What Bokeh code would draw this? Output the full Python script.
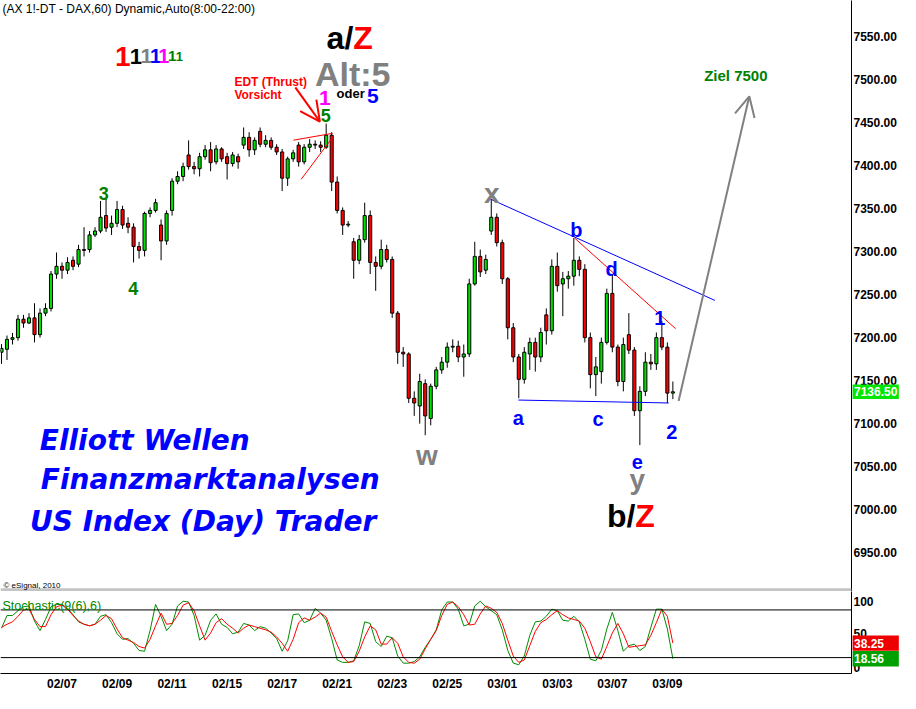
from bokeh.plotting import figure
from bokeh.layouts import column
from bokeh.models import Range1d, FixedTicker, NumeralTickFormatter, Label, Span, Arrow, OpenHead
from bokeh.core.properties import value
from bokeh.embed import file_html
from bokeh.resources import INLINE

# ---------------- data (DAX future, 60-min chart, aggregated candles) ----------------
opens = [7182.5, 7186, 7197.5, 7199.5, 7221, 7216.5, 7222.5, 7203, 7228, 7233.5,
         7273.5, 7282.5, 7278, 7289.5, 7285, 7302, 7302, 7319, 7323.5, 7341.5,
         7328, 7332.5, 7348.5, 7332.5, 7328, 7305.5, 7301, 7344, 7347.5, 7330.5,
         7312, 7347.5, 7381.5, 7387, 7412, 7398.5, 7396, 7410, 7418, 7404,
         7419, 7410, 7402, 7410, 7423.5, 7432.5, 7418, 7439.5, 7424.5, 7429,
         7421, 7415.5, 7385, 7407.5, 7423.5, 7404, 7421, 7424.5, 7423.5, 7421,
         7435, 7380.5, 7347.5, 7330.5, 7311, 7289.5, 7313.5, 7341.5, 7287, 7282.5,
         7302, 7290.5, 7228, 7182.5, 7180.5, 7129, 7120, 7146, 7105.5, 7143,
         7162, 7171, 7188.5, 7189.5, 7177, 7180.5, 7262, 7294, 7278, 7323.5,
         7339.5, 7310, 7268, 7211, 7177, 7151, 7180.5, 7194, 7177, 7226,
         7207.5, 7282.5, 7262, 7268, 7271, 7289.5, 7279, 7199.5, 7156.5, 7160,
         7194, 7251, 7188.5, 7148.5, 7203, 7185, 7114.5, 7137, 7171, 7169,
         7199.5, 7188.5, 7135]
highs = [7192, 7202, 7205, 7226, 7226, 7228, 7239.5, 7233.5, 7239.5, 7277,
         7298.5, 7287, 7293, 7294, 7307.5, 7328, 7323.5, 7328, 7358.5, 7361,
         7341.5, 7358.5, 7353, 7339.5, 7332.5, 7311, 7346, 7351, 7361, 7337,
         7347.5, 7385, 7393, 7403, 7429, 7404, 7414.5, 7423.5, 7427, 7423.5,
         7421, 7414.5, 7415.5, 7413.5, 7444, 7438.5, 7432.5, 7444, 7435, 7432.5,
         7424.5, 7419, 7410, 7418, 7427, 7424.5, 7430.5, 7429, 7428, 7448.5,
         7438.5, 7387, 7351, 7335, 7315.5, 7319, 7356.5, 7347.5, 7294, 7313.5,
         7307.5, 7294, 7230.5, 7188.5, 7182.5, 7137, 7157.5, 7151, 7146, 7165.5,
         7177, 7194, 7197.5, 7196, 7191.5, 7268, 7311, 7302, 7296, 7361,
         7344, 7313.5, 7270, 7216.5, 7180.5, 7188.5, 7199.5, 7199.5, 7211, 7233.5,
         7290.5, 7298.5, 7276, 7277, 7315.5, 7294, 7285, 7205.5, 7177, 7199.5,
         7256.5, 7273.5, 7191.5, 7199.5, 7228, 7188.5, 7143, 7182.5, 7180.5, 7205.5,
         7219, 7194, 7148.5]
lows = [7169, 7173.5, 7191.5, 7196, 7211, 7215.5, 7194, 7199.5, 7224.5, 7230,
        7268, 7268, 7273.5, 7278, 7281.5, 7294, 7298.5, 7316.5, 7321, 7322.5,
        7319, 7328, 7326, 7321, 7287, 7291.5, 7294, 7339.5, 7345, 7289.5,
        7307.5, 7341.5, 7378, 7381.5, 7395, 7389.5, 7387, 7406.5, 7393, 7401,
        7404, 7383.5, 7398.5, 7396, 7419, 7410, 7412, 7421, 7421, 7418,
        7412, 7370, 7376, 7404, 7398.5, 7401, 7415.5, 7419, 7415.5, 7419,
        7370, 7344, 7319, 7328, 7268, 7285, 7310, 7273.5, 7254, 7279,
        7287, 7222.5, 7169, 7165.5, 7123.5, 7108.5, 7099.5, 7086, 7097.5, 7139.5,
        7157.5, 7164.5, 7182.5, 7171, 7154, 7177, 7260, 7270, 7273.5, 7319,
        7305.5, 7262, 7197.5, 7171, 7129, 7146, 7162, 7160, 7171, 7191.5,
        7203, 7253, 7224.5, 7256.5, 7260, 7271, 7194, 7140.5, 7131.5, 7146,
        7191.5, 7182.5, 7143, 7137, 7180.5, 7108.5, 7074.5, 7131.5, 7162, 7162,
        7185, 7123.5, 7128]
closes = [7187, 7197.5, 7199.5, 7221, 7216.5, 7222.5, 7203, 7228, 7233.5, 7273.5,
          7282.5, 7278, 7287, 7282.5, 7302, 7301, 7319, 7323.5, 7339.5, 7327,
          7332.5, 7348.5, 7330.5, 7328, 7305.5, 7301, 7344, 7347.5, 7356.5, 7312,
          7344, 7381.5, 7387, 7398.5, 7398.5, 7396, 7410, 7418, 7403, 7419,
          7407.5, 7402, 7412, 7404, 7432.5, 7418, 7429, 7424.5, 7429, 7421,
          7415.5, 7385, 7407.5, 7414.5, 7404, 7421, 7424.5, 7423.5, 7421, 7435,
          7380.5, 7347.5, 7330.5, 7331.5, 7289.5, 7313.5, 7341.5, 7287, 7282.5, 7302,
          7290.5, 7228, 7182.5, 7180.5, 7129, 7123.5, 7148.5, 7108.5, 7143, 7162,
          7171, 7188.5, 7189.5, 7177, 7180.5, 7262, 7294, 7276, 7290.5, 7339.5,
          7310, 7268, 7211, 7177, 7151, 7182.5, 7194, 7177, 7205.5, 7207.5,
          7282.5, 7260, 7268, 7271, 7289.5, 7279, 7199.5, 7156.5, 7165.5, 7194,
          7251, 7188.5, 7148.5, 7191.5, 7185, 7114.5, 7137, 7171, 7169, 7199.5,
          7188.5, 7135, 7136.5]

# Stochastic(9(6),6): %K (green) and %D (red)
stoch_k = [57, 73, 73, 79, 84, 85, 66, 54, 68, 84,
           87, 87, 82, 74, 65, 62, 60, 62, 72, 74,
           64, 50, 43, 44, 38, 29, 28, 54, 87, 72,
           54, 62, 85, 91, 90, 73, 42, 48, 67, 75,
           62, 58, 50, 52, 63, 61, 54, 59, 57, 51,
           44, 28, 41, 74, 75, 64, 67, 82, 76, 67,
           44, 17, 14, 14, 16, 35, 65, 63, 40, 34,
           47, 45, 22, 13, 13, 15, 21, 33, 43, 55,
           80, 90, 90, 81, 60, 62, 85, 91, 84, 79,
           74, 55, 29, 13, 11, 22, 48, 65, 66, 72,
           81, 79, 67, 66, 72, 65, 43, 18, 16, 29,
           56, 77, 54, 28, 35, 37, 29, 34, 58, 81,
           81, 56, 18.56]
stoch_d = [58, 62, 65, 72, 80, 81, 68, 59, 59, 74,
           84, 86, 81, 73, 66, 62, 60, 62, 67, 73,
           69, 56, 45, 42, 39, 34, 32, 43, 60, 76,
           62, 63, 73, 86, 89, 79, 60, 42, 51, 64,
           69, 62, 57, 51, 57, 61, 59, 57, 55, 52,
           46, 38, 28, 43, 64, 70, 67, 71, 76, 71,
           53, 36, 21, 14, 15, 28, 46, 60, 55, 37,
           37, 45, 38, 21, 14, 13, 18, 31, 43, 54,
           73, 87, 90, 84, 74, 61, 62, 75, 85, 82,
           77, 63, 42, 22, 14, 17, 35, 53, 64, 68,
           74, 79, 74, 70, 68, 66, 57, 40, 21, 18,
           34, 51, 63, 50, 33, 34, 35, 36, 48, 64,
           81, 72, 38.25]

date_ticks = [11, 21, 31, 41, 51, 61, 71, 81, 91, 101, 111, 121]
date_labels = ["02/07", "02/09", "02/11", "02/15", "02/17", "02/21",
               "02/23", "02/25", "03/01", "03/03", "03/07", "03/09"]
price_ticks = [6950, 7000, 7050, 7100, 7150, 7200, 7250, 7300, 7350, 7400, 7450, 7500, 7550]
last_price = 7136.50

# trend lines drawn on the chart (bar index, price)
upper_line_x = [88.75, 129.64]
upper_line_y = [7361.0, 7242.8]
lower_line_x = [93.93, 121.25]
lower_line_y = [7126.9, 7123.5]
bd_line_x = [104.1, 122.5]
bd_line_y = [7315.6, 7209.9]
edt_top_x = [53.04, 60.18]
edt_top_y = [7429.2, 7437.2]
edt_bot_x = [54.46, 60.18]
edt_bot_y = [7383.7, 7432.6]

# ---------------- styling constants ----------------
UP = "#00e000"
DOWN = "#ff0000"
FONT = "Liberation Sans"
X0, X1 = -0.18, 154.46
BOX_L, BOX_R, TXT_X = X1 + 0.2, X1 + 8.6, X1 + 0.45   # value boxes on the price axes

idx = list(range(len(closes)))
tops = [max(o, c) for o, c in zip(opens, closes)]
bots = [min(o, c) for o, c in zip(opens, closes)]
cols = [UP if c >= o else DOWN for o, c in zip(opens, closes)]


def style_axis(ax, standoff=2):
    ax.axis_line_color = "black"
    ax.axis_line_width = 1
    ax.major_tick_out = 0
    ax.major_tick_in = 0
    ax.minor_tick_out = 0
    ax.minor_tick_in = 0
    ax.major_tick_line_color = None
    ax.minor_tick_line_color = None
    ax.major_label_text_font = FONT
    ax.major_label_text_font_style = "bold"
    ax.major_label_text_font_size = "12px"
    ax.major_label_text_color = "black"
    ax.major_label_standoff = standoff


def lab(fig, x, y, text, size, color, align="left", style="bold", font=FONT,
        baseline="alphabetic"):
    fig.add_layout(Label(x=x, y=y, text=text, text_font=font,
                         text_font_size=f"{size}px", text_font_style=style,
                         text_color=color, text_align=align, text_baseline=baseline))


def value_box(fig, val, half_h, fill):
    fig.quad(left=[BOX_L], right=[BOX_R], top=[val + half_h], bottom=[val - half_h],
             fill_color=fill, line_color=None, level="annotation")
    fig.text(x=[TXT_X], y=[val], text=[f"{val:.2f}"], text_font=value(FONT),
             text_font_style="bold", text_font_size="12px", text_color="white",
             text_align="left", text_baseline="middle", level="annotation")


# ---------------- main price panel ----------------
p1 = figure(width=900, height=591, output_backend="svg", toolbar_location=None,
            x_range=Range1d(X0, X1), y_range=Range1d(6904.2, 7591.7),
            x_axis_location=None, y_axis_location="right",
            min_border_left=0, min_border_top=0, min_border_bottom=0, min_border_right=49)
p1.outline_line_color = None
p1.xgrid.visible = False
p1.ygrid.visible = False
p1.background_fill_color = "white"
p1.border_fill_color = "white"
style_axis(p1.yaxis[0])
p1.yaxis[0].ticker = FixedTicker(ticks=price_ticks)
p1.yaxis[0].formatter = NumeralTickFormatter(format="0.00")

p1.segment(x0=idx, y0=highs, x1=idx, y1=lows, line_color="black", line_width=1)
p1.vbar(x=idx, top=tops, bottom=bots, width=0.56, fill_color=cols,
        line_color="black", line_width=1)

# trend lines
p1.line(upper_line_x, upper_line_y, line_color="#0000ff", line_width=1)
p1.line(lower_line_x, lower_line_y, line_color="#0000ff", line_width=1)
p1.line(bd_line_x, bd_line_y, line_color="#ff0000", line_width=1)
p1.line(edt_top_x, edt_top_y, line_color="#ff0000", line_width=1)
p1.line(edt_bot_x, edt_bot_y, line_color="#ff0000", line_width=1)

# arrows
p1.add_layout(Arrow(end=OpenHead(size=20, line_color="#ff0000", line_width=2),
                    x_start=53.39, y_start=7490.6, x_end=57.86, y_end=7450.8,
                    line_color="#ff0000", line_width=2))
p1.add_layout(Arrow(end=OpenHead(size=20, line_color="#808080", line_width=2),
                    x_start=123.04, y_start=7125.8, x_end=135.89, y_end=7480.3,
                    line_color="#808080", line_width=2))

# separator between panels
p1.add_layout(Span(location=6906.3, dimension="width", line_color="#c4c4c4", line_width=3))

# texts
lab(p1, 0.18, 7590.4, "(AX 1!-DT - DAX,60) Dynamic,Auto(8:00-22:00)", 12, "black",
    style="normal", baseline="top")
ones = [(22.05, 28, "#ff0000"), (24.4, 22, "black"), (26.3, 21, "#808080"),
        (28.0, 20, "#0000ff"), (29.5, 20, "#ff00ff"), (31.0, 15, "#008000"),
        (32.3, 13, "#008000")]
for x, s, c in ones:
    lab(p1, x, 7526.9, "1", s, c, align="center")

lab(p1, 63.93, 7548.5, "a/", 32, "black", align="right")
lab(p1, 63.93, 7548.5, "Z", 32, "#ff0000")
lab(p1, 56.96, 7506.5, "Alt:5", 34, "#808080")
lab(p1, 58.75, 7478.1, "1", 21, "#ff00ff", align="center")
lab(p1, 60.89, 7483.7, "oder", 13, "black")
lab(p1, 66.43, 7480.3, "5", 21, "#0000ff")
lab(p1, 58.93, 7457.6, "5", 18, "#008000", align="center")
lab(p1, 42.32, 7497.4, "EDT (Thrust)", 12, "#ff0000")
lab(p1, 42.32, 7481.5, "Vorsicht", 12, "#ff0000")
lab(p1, 18.57, 7366.7, "3", 18, "#008000", align="center")
lab(p1, 23.93, 7256.5, "4", 18, "#008000", align="center")
lab(p1, 89.11, 7366.7, "x", 28, "#808080", align="center")
lab(p1, 77.32, 7062.2, "w", 28, "#808080", align="center")
lab(p1, 115.54, 7034.9, "y", 28, "#808080", align="center")
lab(p1, 115.18, 6991.7, "b/", 32, "black", align="right")
lab(p1, 115.18, 6991.7, "Z", 32, "#ff0000")
for t, x, y in [("a", 93.93, 7106.5), ("b", 104.46, 7324.7), ("c", 108.39, 7105.3),
                ("d", 110.89, 7279.2), ("e", 115.54, 7055.3), ("1", 119.64, 7222.4),
                ("2", 121.79, 7089.4)]:
    lab(p1, x, y, t, 20, "#0000ff", align="center")
lab(p1, 127.68, 7504.2, "Ziel 7500", 15, "#008000")

big_font = "DejaVu Sans"
lab(p1, 6.96, 7079.8, "Elliott Wellen", 28, "#0000ff", style="bold italic", font=big_font)
lab(p1, 7.14, 7034.9, "Finanzmarktanalysen", 28, "#0000ff", style="bold italic", font=big_font)
lab(p1, 5.18, 6986.0, "US Index (Day) Trader", 28, "#0000ff", style="bold italic", font=big_font)
lab(p1, 0.36, 6911.0, "\u00a9 eSignal, 2010", 8, "black", style="normal")

value_box(p1, last_price, 8.5, "#00e600")

# ---------------- stochastic panel ----------------
p2 = figure(width=900, height=102, output_backend="svg", toolbar_location=None,
            x_range=p1.x_range, y_range=Range1d(0, 103.2),
            x_axis_location="below", y_axis_location="right",
            min_border_left=0, min_border_top=0, min_border_bottom=18, min_border_right=49)
p2.outline_line_color = None
p2.xgrid.visible = False
p2.ygrid.visible = False
style_axis(p2.yaxis[0])
style_axis(p2.xaxis[0], standoff=3)
p2.xaxis[0].ticker = FixedTicker(ticks=date_ticks)
p2.xaxis[0].major_label_overrides = {t: l for t, l in zip(date_ticks, date_labels)}
p2.yaxis[0].ticker = FixedTicker(ticks=[8, 50, 91])
p2.yaxis[0].major_label_overrides = {8: "0", 50: "50", 91: "100"}

p2.add_layout(Span(location=80, dimension="width", line_color="black", line_width=1))
p2.add_layout(Span(location=20, dimension="width", line_color="black", line_width=1))
p2.line(idx, stoch_k, line_color="#008c00", line_width=1)
p2.line(idx, stoch_d, line_color="#ff0000", line_width=1)

lab(p2, 0.18, 85.5, "Stochastic(9(6),6)", 12.5, "#008800", style="normal")
value_box(p2, stoch_d[-1], 9.7, "#ee0000")
value_box(p2, stoch_k[-1], 9.7, "#00a000")

layout = column(p1, p2, spacing=0)
open("out.html", "w").write(file_html(layout, INLINE))
